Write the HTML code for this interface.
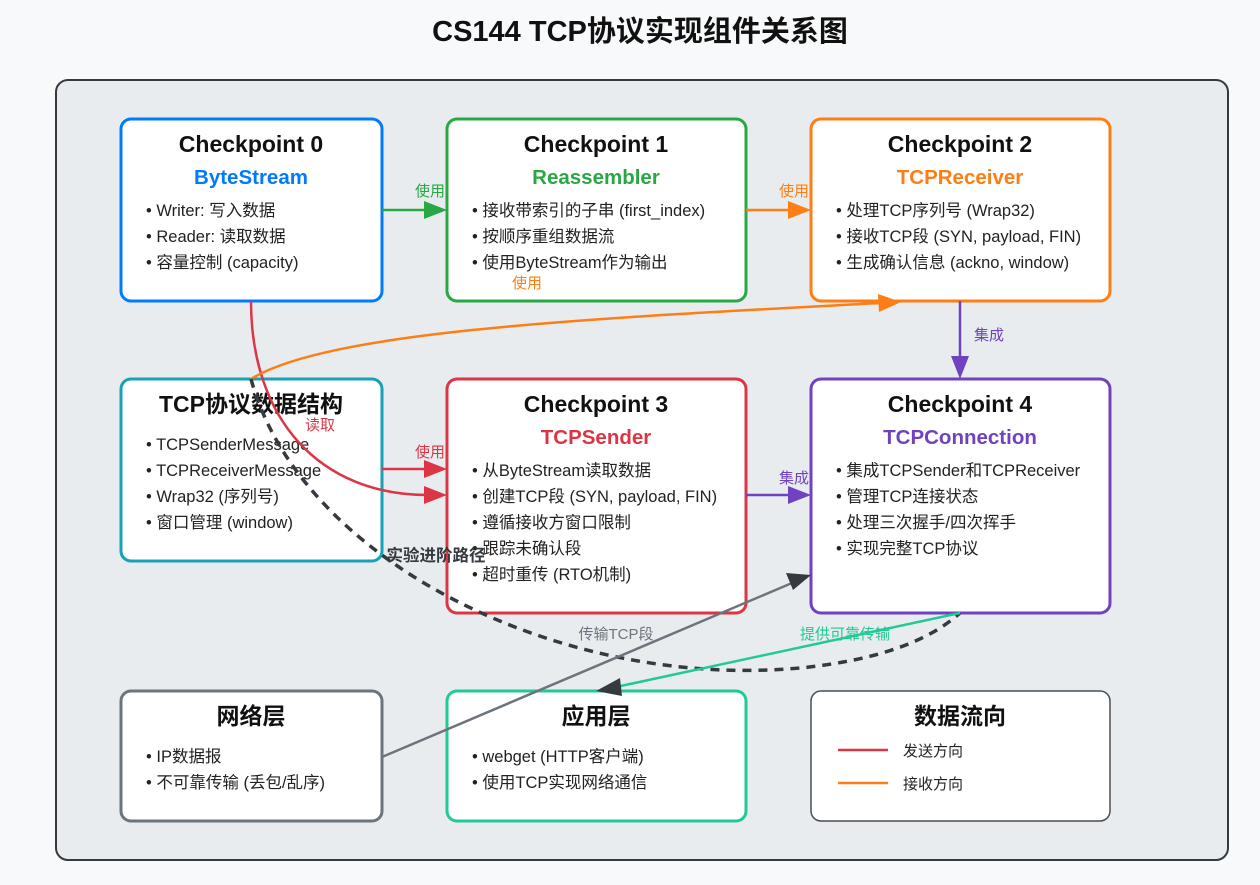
<!DOCTYPE html>
<html><head><meta charset="utf-8"><style>
html,body{margin:0;padding:0;background:#f8f9fa;}
svg{display:block;font-family:"Liberation Sans","Noto Sans CJK SC",sans-serif;}
.t{font-size:23px;font-weight:bold;fill:#111;text-anchor:middle}
.s{font-size:20.5px;font-weight:bold;text-anchor:middle}
.b{font-size:16.5px;fill:#222}
.l{font-size:15px}
</style></head><body>
<svg width="1260" height="885" viewBox="0 0 1260 885">
<rect width="1260" height="885" fill="#f8f9fa"/>
<text x="640" y="41" text-anchor="middle" font-size="29" font-weight="bold" fill="#111">CS144 TCP协议实现组件关系图</text>
<rect x="56" y="80" width="1172" height="780" rx="12" fill="#e9ecef" stroke="#343a40" stroke-width="2"/>

<rect x="121" y="119" width="261" height="182" rx="10" fill="#fff" stroke="#007bff" stroke-width="3"/>
<rect x="447" y="119" width="299" height="182" rx="10" fill="#fff" stroke="#28a745" stroke-width="3"/>
<rect x="811" y="119" width="299" height="182" rx="10" fill="#fff" stroke="#fd7e14" stroke-width="3"/>
<rect x="121" y="379" width="261" height="182" rx="10" fill="#fff" stroke="#17a2b8" stroke-width="3"/>
<rect x="447" y="379" width="299" height="234" rx="10" fill="#fff" stroke="#dc3545" stroke-width="3"/>
<rect x="811" y="379" width="299" height="234" rx="10" fill="#fff" stroke="#6f42c1" stroke-width="3"/>
<rect x="121" y="691" width="261" height="130" rx="10" fill="#fff" stroke="#6c757d" stroke-width="3"/>
<rect x="447" y="691" width="299" height="130" rx="10" fill="#fff" stroke="#20c997" stroke-width="3"/>
<rect x="811" y="691" width="299" height="130" rx="10" fill="#fff" stroke="#495057" stroke-width="1.5"/>

<text class="t" x="251" y="152">Checkpoint 0</text>
<text class="s" x="251" y="184" fill="#007bff">ByteStream</text>
<text class="b" x="146" y="216">• Writer: 写入数据</text>
<text class="b" x="146" y="242">• Reader: 读取数据</text>
<text class="b" x="146" y="268">• 容量控制 (capacity)</text>

<text class="t" x="596" y="152">Checkpoint 1</text>
<text class="s" x="596" y="184" fill="#28a745">Reassembler</text>
<text class="b" x="472" y="216">• 接收带索引的子串 (first_index)</text>
<text class="b" x="472" y="242">• 按顺序重组数据流</text>
<text class="b" x="472" y="268">• 使用ByteStream作为输出</text>
<text class="l" x="512" y="288" fill="#fd7e14">使用</text>

<text class="t" x="960" y="152">Checkpoint 2</text>
<text class="s" x="960" y="184" fill="#fd7e14">TCPReceiver</text>
<text class="b" x="836" y="216">• 处理TCP序列号 (Wrap32)</text>
<text class="b" x="836" y="242">• 接收TCP段 (SYN, payload, FIN)</text>
<text class="b" x="836" y="268">• 生成确认信息 (ackno, window)</text>

<text class="t" x="251" y="412">TCP协议数据结构</text>
<text class="b" x="146" y="450">• TCPSenderMessage</text>
<text class="b" x="146" y="476">• TCPReceiverMessage</text>
<text class="b" x="146" y="502">• Wrap32 (序列号)</text>
<text class="b" x="146" y="528">• 窗口管理 (window)</text>

<text class="t" x="596" y="412">Checkpoint 3</text>
<text class="s" x="596" y="444" fill="#dc3545">TCPSender</text>
<text class="b" x="472" y="476">• 从ByteStream读取数据</text>
<text class="b" x="472" y="502">• 创建TCP段 (SYN, payload, FIN)</text>
<text class="b" x="472" y="528">• 遵循接收方窗口限制</text>
<text class="b" x="472" y="554">• 跟踪未确认段</text>
<text class="b" x="472" y="580">• 超时重传 (RTO机制)</text>

<text class="t" x="960" y="412">Checkpoint 4</text>
<text class="s" x="960" y="444" fill="#6f42c1">TCPConnection</text>
<text class="b" x="836" y="476">• 集成TCPSender和TCPReceiver</text>
<text class="b" x="836" y="502">• 管理TCP连接状态</text>
<text class="b" x="836" y="528">• 处理三次握手/四次挥手</text>
<text class="b" x="836" y="554">• 实现完整TCP协议</text>

<text class="t" x="251" y="724">网络层</text>
<text class="b" x="146" y="762">• IP数据报</text>
<text class="b" x="146" y="788">• 不可靠传输 (丢包/乱序)</text>

<text class="t" x="596" y="724">应用层</text>
<text class="b" x="472" y="762">• webget (HTTP客户端)</text>
<text class="b" x="472" y="788">• 使用TCP实现网络通信</text>

<text class="t" x="960" y="724">数据流向</text>
<line x1="838" y1="750" x2="888" y2="750" stroke="#dc3545" stroke-width="2.5"/>
<text class="l" x="903" y="756" fill="#222">发送方向</text>
<line x1="838" y1="783" x2="888" y2="783" stroke="#fd7e14" stroke-width="2.5"/>
<text class="l" x="903" y="789" fill="#222">接收方向</text>

<line x1="382" y1="210" x2="426" y2="210" stroke="#28a745" stroke-width="2.5"/>
<path d="M424,201L447,210L424,219z" fill="#28a745"/>
<text class="l" x="430" y="196" fill="#28a745" text-anchor="middle">使用</text>

<line x1="746" y1="210" x2="790" y2="210" stroke="#fd7e14" stroke-width="2.5"/>
<path d="M788,201L811,210L788,219z" fill="#fd7e14"/>
<text class="l" x="794" y="196" fill="#fd7e14" text-anchor="middle">使用</text>

<line x1="960" y1="301" x2="960" y2="358" stroke="#6f42c1" stroke-width="2.5"/>
<path d="M951,356L960,379L969,356z" fill="#6f42c1"/>
<text class="l" x="974" y="340" fill="#6f42c1">集成</text>

<line x1="746" y1="495" x2="790" y2="495" stroke="#6f42c1" stroke-width="2.5"/>
<path d="M788,486L811,495L788,504z" fill="#6f42c1"/>
<text class="l" x="794" y="483" fill="#6f42c1" text-anchor="middle">集成</text>

<line x1="382" y1="469" x2="426" y2="469" stroke="#dc3545" stroke-width="2.5"/>
<path d="M424,460L447,469L424,478z" fill="#dc3545"/>
<text class="l" x="430" y="457" fill="#dc3545" text-anchor="middle">使用</text>

<path d="M251,301 C251,420 320,495 428,495" fill="none" stroke="#dc3545" stroke-width="2.5"/>
<path d="M424,486L447,495L424,504z" fill="#dc3545"/>
<text class="l" x="320" y="430" fill="#dc3545" text-anchor="middle">读取</text>

<path d="M251,379 C330,330 600,318 880,303" fill="none" stroke="#fd7e14" stroke-width="2.5"/>
<path d="M878,294L901,302L879,312z" fill="#fd7e14"/>

<path d="M251,379 C300,560 560,690 800,668 C880,660 930,640 960,613" fill="none" stroke="#343a40" stroke-width="3.5" stroke-dasharray="9,7"/>
<text x="436" y="561" text-anchor="middle" font-size="16.5" font-weight="bold" fill="#343a40">实验进阶路径</text>

<line x1="382" y1="757" x2="792" y2="583" stroke="#6c757d" stroke-width="2.5"/>
<path d="M786,573L811,575L793,590z" fill="#343a40"/>
<text class="l" x="616" y="639" fill="#6c757d" text-anchor="middle">传输TCP段</text>

<line x1="960" y1="613" x2="616" y2="687" stroke="#20c997" stroke-width="2.5"/>
<path d="M620,678L596,691L622,696z" fill="#343a40"/>
<text class="l" x="845" y="639" fill="#20c997" text-anchor="middle">提供可靠传输</text>
</svg>
</body></html>
